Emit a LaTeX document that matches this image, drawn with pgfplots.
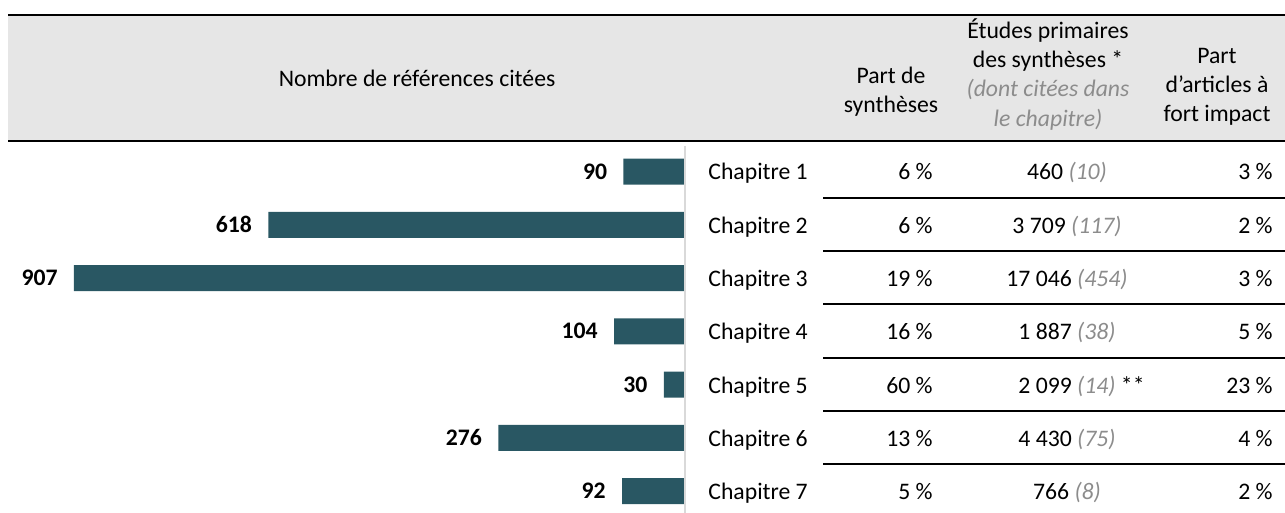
\documentclass[border=0pt]{standalone}
\usepackage{fontspec}
\setmainfont{Carlito}
\usepackage{pgfplots}
\pgfplotsset{compat=1.18}
\definecolor{barcol}{RGB}{41,87,99}
\definecolor{headgray}{RGB}{230,230,230}
\definecolor{vline}{RGB}{217,217,217}
\definecolor{softgray}{RGB}{140,140,140}
\newcommand{\soft}[1]{\textcolor{softgray}{\itshape #1}}
\begin{document}
\fontsize{11.85}{14.6}\selectfont
\begin{tikzpicture}[x=0.5pt,y=-0.5pt]
\path[use as bounding box] (0,0) rectangle (1285,513);
\clip (0,0) rectangle (1285,513);
% header band
\fill[headgray] (8,15) rectangle (1285,141);
\draw[line width=1.3pt] (8,15) -- (1285,15);
\draw[line width=1.3pt] (8,141) -- (1285,141);
\draw[vline, line width=0.8pt] (685,146) -- (685,513);
% header texts
\node[anchor=base, inner sep=0] at (417,87) {Nombre de références citées};
\node[anchor=base, inner sep=0] at (891,84) {Part de};
\node[anchor=base, inner sep=0] at (891,113) {synthèses};
\node[anchor=base, inner sep=0] at (1048,39) {Études primaires};
\node[anchor=base, inner sep=0] at (1048,68) {des synthèses *};
\node[anchor=base, inner sep=0] at (1048,97) {\soft{(dont citées dans}};
\node[anchor=base, inner sep=0] at (1048,127) {\soft{le chapitre)}};
\node[anchor=base, inner sep=0] at (1217,64) {Part};
\node[anchor=base, inner sep=0] at (1217,93) {d’articles à};
\node[anchor=base, inner sep=0] at (1217,122) {fort impact};
% row separators
\foreach \y in {198,251.5,304.5,358,411,464}
  \draw[line width=1pt] (823,\y) -- (1285,\y);
% table rows
\foreach \r/\a/\b/\c in {1/6/460 \soft{(10)}/3,
                         2/6/3~709 \soft{(117)}/2,
                         3/19/17~046 \soft{(454)}/3,
                         4/16/1~887 \soft{(38)}/5,
                         5/60/2~099 \soft{(14)}\rlap{ **}/23,
                         6/13/4~430 \soft{(75)}/4,
                         7/5/766 \soft{(8)}/2}{
  \pgfmathsetmacro{\yb}{171.5+53.25*(\r-1)+8.5}
  \node[anchor=base west, inner sep=0] at (708,\yb) {Chapitre \r};
  \node[anchor=base east, inner sep=0] at (933,\yb) {\a~\%};
  \node[anchor=base, inner sep=0] at (1067,\yb) {\b};
  \node[anchor=base east, inner sep=0] at (1273,\yb) {\c~\%};
}
\begin{axis}[at={(0,0)}, anchor=north west, scale only axis,
  width=342pt, height=256.5pt, hide axis, clip=false,
  xbar, bar width=13pt, x dir=reverse, y dir=reverse,
  xmin=0, xmax=1017, ymin=-2.2207, ymax=7.4131,
  /pgf/number format/assume math mode=true,
  nodes near coords,
  every node near coord/.append style={anchor=east, inner sep=0pt, xshift=-8pt, font=\bfseries, text=black}]
\addplot[fill=barcol, draw=none] coordinates {(90,1) (618,2) (907,3) (104,4) (30,5) (276,6) (92,7)};
\end{axis}
\end{tikzpicture}
\end{document}
